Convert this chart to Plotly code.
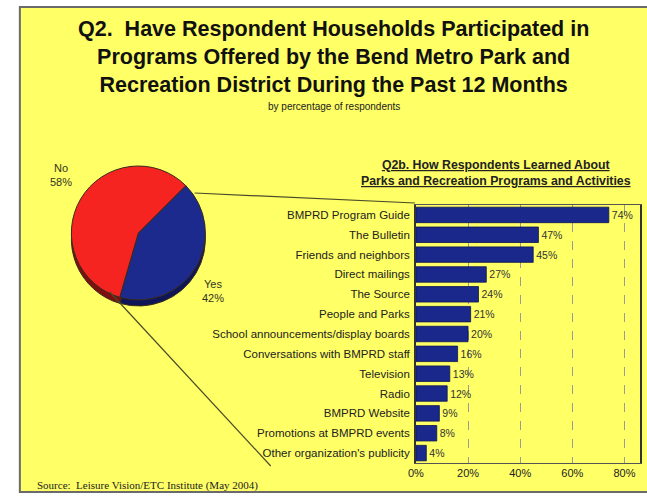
import plotly.graph_objects as go

W, H = 647, 496

# ---- data ----
pie_labels = ["Yes", "No"]
pie_values = [42, 58]

categories = [
    "BMPRD Program Guide",
    "The Bulletin",
    "Friends and neighbors",
    "Direct mailings",
    "The Source",
    "People and Parks",
    "School announcements/display boards",
    "Conversations with BMPRD staff",
    "Television",
    "Radio",
    "BMPRD Website",
    "Promotions at BMPRD events",
    "Other organization's publicity",
]
values = [74, 47, 45, 27, 24, 21, 20, 16, 13, 12, 9, 8, 4]
x_ticks = [0, 20, 40, 60, 80]
x_tick_labels = ["0%", "20%", "40%", "60%", "80%"]

title_lines = [
    "Q2.  Have Respondent Households Participated in",
    "Programs Offered by the Bend Metro Park and",
    "Recreation District During the Past 12 Months",
]
subtitle = "by percentage of respondents"
bar_title = ["Q2b. How Respondents Learned About",
             "Parks and Recreation Programs and Activities"]
source = "Source:  Leisure Vision/ETC Institute (May 2004)"


def px(x):
    return x / W


def py(y):
    return 1 - y / H


fig = go.Figure()

# pie depth (3D rim)
fig.add_trace(go.Pie(
    labels=pie_labels, values=pie_values, sort=False, direction="clockwise",
    rotation=45, textinfo="none", hoverinfo="skip", showlegend=False,
    marker=dict(colors=["#0f1658", "#7c1010"], line=dict(color="#3a2a1a", width=1)),
    domain=dict(x=[px(63), px(201)], y=[py(306), py(172)]),
))
# pie top
fig.add_trace(go.Pie(
    labels=pie_labels, values=pie_values, sort=False, direction="clockwise",
    rotation=45, textinfo="none", showlegend=False,
    marker=dict(colors=["#1c2a8e", "#f52420"], line=dict(color="#3a2a1a", width=1)),
    domain=dict(x=[px(63), px(201)], y=[py(300), py(166)]),
))

# bars
fig.add_trace(go.Bar(
    x=values, y=categories, orientation="h",
    marker=dict(color="#1a288c", line=dict(color="#0c1450", width=0.8)),
    width=0.78,
    text=[f"{v}%" for v in values], textposition="outside",
    textfont=dict(size=10.5, color="#333333", family="Liberation Sans, Arial"),
    cliponaxis=False, showlegend=False,
))

fig.update_layout(
    width=W, height=H,
    margin=dict(l=0, r=0, t=0, b=0),
    paper_bgcolor="white",
    plot_bgcolor="white",
    font=dict(family="Liberation Sans, Arial, sans-serif", color="#111111"),
    bargap=0.2,
    xaxis=dict(
        domain=[px(413), px(640)],
        range=[0, 86],
        tickvals=x_ticks, ticktext=x_tick_labels,
        tickfont=dict(size=11, color="#222222"),
        showgrid=True, gridcolor="#9a9a9a", griddash="dash", gridwidth=1.2,
        zeroline=False, showline=True, linecolor="#555555", linewidth=1, mirror=True,
        ticks="", fixedrange=True,
    ),
    yaxis=dict(
        domain=[py(463), py(205)],
        autorange="reversed",
        tickfont=dict(size=11.5, color="#222222"),
        showline=True, linecolor="#333333", linewidth=1.5, mirror=True,
        ticks="", ticklabelstandoff=2, showgrid=False, fixedrange=True,
    ),
)

shapes = [
    # yellow panel
    dict(type="rect", xref="paper", yref="paper",
         x0=px(12), x1=px(660), y0=py(492), y1=py(7),
         fillcolor="#ffff66", line=dict(color="#6a6a6a", width=2), layer="below"),
    # connector lines
    dict(type="line", xref="paper", yref="paper",
         x0=px(189), y0=py(193), x1=px(412), y1=py(203),
         line=dict(color="#4a4a2a", width=1.2)),
    dict(type="line", xref="paper", yref="paper",
         x0=px(103), y0=py(292), x1=px(266), y1=py(466),
         line=dict(color="#4a4a2a", width=1.2)),
]
fig.update_layout(shapes=shapes)

ann = []
ann.append(dict(text="<b>" + "<br>".join(title_lines) + "</b>",
                x=px(330), y=py(15), xref="paper", yref="paper",
                xanchor="center", yanchor="top", showarrow=False,
                font=dict(size=21.5, color="#111111", family="Liberation Sans, Arial")))
ann.append(dict(text=subtitle, x=px(330), y=py(107), xref="paper", yref="paper",
                xanchor="center", yanchor="middle", showarrow=False,
                font=dict(size=10, color="#222222")))
ann.append(dict(text="<b><u>" + bar_title[0] + "</u><br><u>" + bar_title[1] + "</u></b>",
                x=px(494), y=py(173), xref="paper", yref="paper",
                xanchor="center", yanchor="middle", showarrow=False,
                font=dict(size=12.3, color="#222222")))
ann.append(dict(text=source, x=px(27), y=py(485), xref="paper", yref="paper",
                xanchor="left", yanchor="middle", showarrow=False,
                font=dict(size=11, color="#222222", family="Liberation Serif, Times New Roman, serif")))
# pie labels
ann.append(dict(text=f"{pie_labels[1]}<br>{pie_values[1]}%", x=px(54), y=py(175),
                xref="paper", yref="paper", xanchor="center", yanchor="middle",
                showarrow=False, font=dict(size=11, color="#333322")))
ann.append(dict(text=f"{pie_labels[0]}<br>{pie_values[0]}%", x=px(208), y=py(291),
                xref="paper", yref="paper", xanchor="center", yanchor="middle",
                showarrow=False, font=dict(size=11, color="#333322")))
fig.update_layout(annotations=ann)

fig.write_html("out.html")
